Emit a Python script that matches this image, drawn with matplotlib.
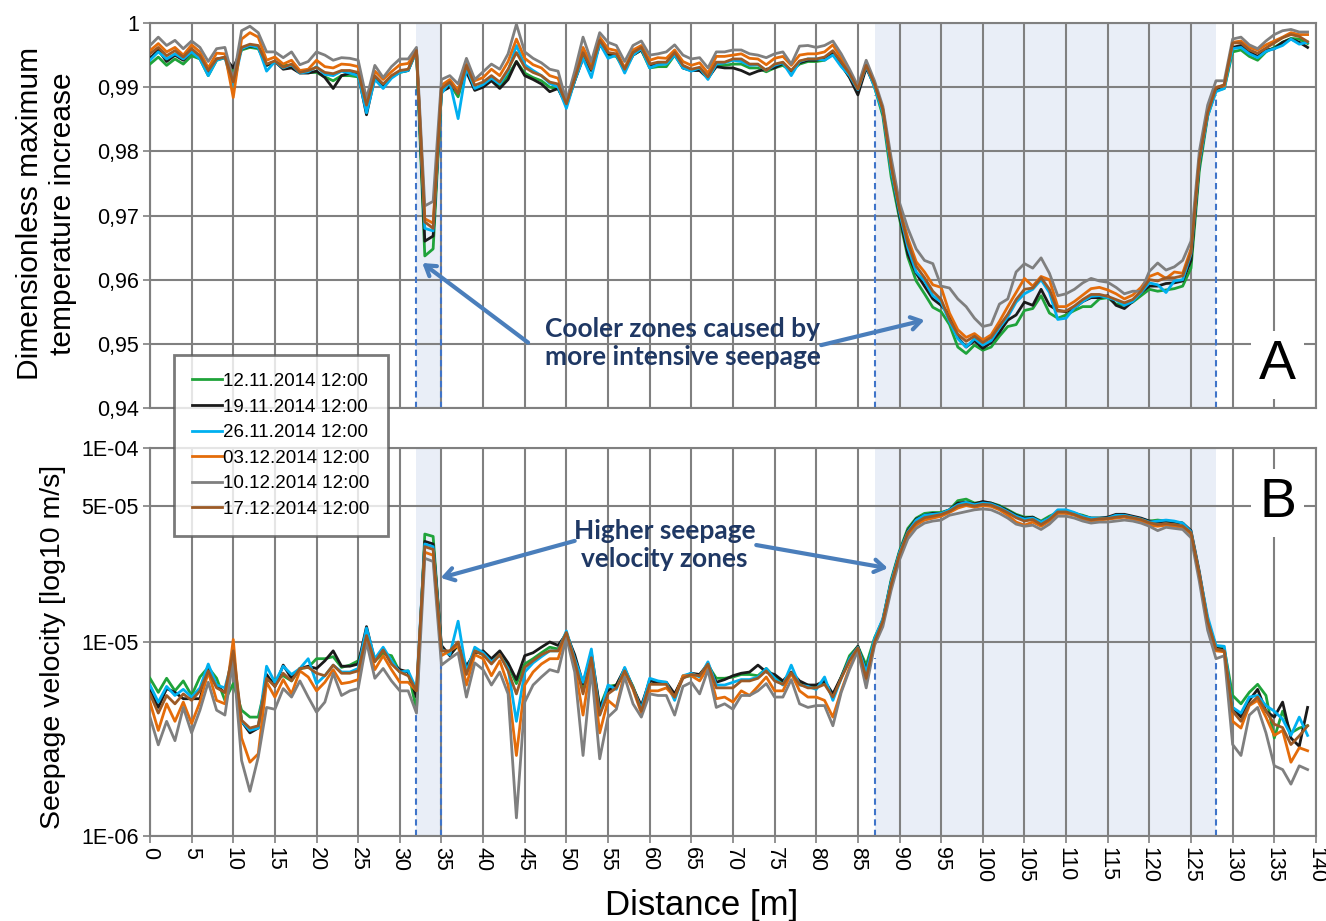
"""Temperature response and seepage velocity along the fibre (two panels).

Run:
    python plot.py
"""

import matplotlib.pyplot as plt
from matplotlib.ticker import FixedLocator, FuncFormatter, NullLocator


OUT_PATH = "out.png"

DISTANCE = list(range(140))

DATES = [
    "12.11.2014 12:00",
    "19.11.2014 12:00",
    "26.11.2014 12:00",
    "03.12.2014 12:00",
    "10.12.2014 12:00",
    "17.12.2014 12:00",
]
COLORS = ["#1fa33a", "#1a1a1a", "#00b0f0", "#e46c0a", "#7f7f7f", "#9c5a26"]

# Panel A: dimensionless maximum temperature increase, in units of 1e-4
temp_1211 = [
    9936, 9947, 9934, 9944, 9936, 9949, 9944, 9918, 9942, 9946,
    9925, 9958, 9962, 9960, 9934, 9939, 9934, 9934, 9923, 9923,
    9923, 9916, 9910, 9918, 9918, 9916, 9874, 9916, 9903, 9916,
    9923, 9926, 9957, 9637, 9648, 9893, 9905, 9885, 9930, 9898,
    9903, 9912, 9902, 9918, 9940, 9922, 9915, 9910, 9900, 9898,
    9872, 9910, 9950, 9926, 9968, 9950, 9948, 9926, 9950, 9958,
    9930, 9932, 9932, 9950, 9930, 9926, 9928, 9914, 9934, 9934,
    9936, 9936, 9930, 9930, 9924, 9930, 9934, 9925, 9936, 9940,
    9940, 9942, 9952, 9934, 9916, 9892, 9934, 9900, 9855, 9760,
    9695, 9635, 9598, 9578, 9557, 9550, 9530, 9495, 9485, 9498,
    9490, 9495, 9512, 9527, 9530, 9552, 9555, 9575, 9548, 9540,
    9545, 9552, 9558, 9558, 9570, 9572, 9562, 9560, 9565, 9575,
    9585, 9582, 9584, 9586, 9590, 9618, 9770, 9855, 9895, 9898,
    9955, 9958, 9948, 9942, 9955, 9962, 9970, 9976, 9975, 9968,
]
temp_1911 = [
    9945, 9958, 9940, 9950, 9942, 9955, 9946, 9922, 9944, 9946,
    9930, 9960, 9964, 9962, 9934, 9940, 9928, 9930, 9922, 9922,
    9925, 9915, 9898, 9918, 9922, 9920, 9857, 9916, 9900, 9916,
    9924, 9926, 9958, 9660, 9668, 9893, 9900, 9895, 9924, 9895,
    9900, 9910, 9898, 9912, 9940, 9918, 9912, 9905, 9893, 9898,
    9872, 9910, 9945, 9926, 9966, 9952, 9950, 9928, 9950, 9958,
    9934, 9936, 9938, 9952, 9930, 9926, 9926, 9914, 9932, 9930,
    9930, 9926, 9920, 9925, 9928, 9930, 9937, 9925, 9938, 9942,
    9942, 9945, 9954, 9935, 9915, 9888, 9930, 9903, 9862, 9772,
    9700, 9640, 9610, 9590, 9570, 9560, 9545, 9510, 9495, 9505,
    9493, 9502, 9518, 9537, 9545, 9565, 9560, 9585, 9560, 9552,
    9550, 9556, 9566, 9572, 9572, 9575, 9560, 9555, 9566, 9580,
    9590, 9590, 9594, 9595, 9598, 9630, 9780, 9858, 9897, 9903,
    9962, 9965, 9955, 9948, 9958, 9960, 9970, 9975, 9970, 9962,
]
temp_2611 = [
    9942, 9955, 9944, 9952, 9944, 9955, 9944, 9918, 9942, 9946,
    9900, 9960, 9965, 9962, 9925, 9940, 9930, 9935, 9922, 9924,
    9932, 9920, 9918, 9925, 9922, 9918, 9860, 9912, 9898, 9914,
    9923, 9926, 9955, 9680, 9676, 9890, 9908, 9851, 9930, 9898,
    9904, 9914, 9905, 9925, 9965, 9935, 9926, 9918, 9906, 9900,
    9867, 9910, 9945, 9915, 9968, 9945, 9950, 9922, 9950, 9960,
    9930, 9935, 9936, 9950, 9930, 9925, 9930, 9912, 9936, 9938,
    9942, 9940, 9934, 9935, 9926, 9934, 9938, 9918, 9940, 9944,
    9944, 9942, 9950, 9932, 9918, 9896, 9933, 9900, 9860, 9770,
    9705, 9650, 9612, 9598, 9575, 9565, 9535, 9508, 9495, 9508,
    9498, 9505, 9525, 9542, 9565, 9578, 9585, 9600, 9580, 9538,
    9540, 9556, 9566, 9574, 9575, 9572, 9568, 9560, 9566, 9580,
    9595, 9592, 9580, 9598, 9600, 9640, 9782, 9855, 9893, 9898,
    9960, 9962, 9952, 9946, 9956, 9960, 9965, 9975, 9967, 9970,
]
temp_0312 = [
    9957, 9968, 9955, 9962, 9950, 9966, 9955, 9930, 9953, 9952,
    9884, 9975, 9985, 9978, 9942, 9947, 9936, 9942, 9926, 9928,
    9942, 9932, 9930, 9936, 9935, 9932, 9878, 9925, 9912, 9924,
    9935, 9937, 9957, 9695, 9688, 9903, 9912, 9895, 9940, 9910,
    9915, 9928, 9918, 9940, 9975, 9945, 9935, 9930, 9918, 9914,
    9876, 9918, 9962, 9935, 9978, 9960, 9957, 9930, 9958, 9965,
    9942, 9946, 9945, 9958, 9940, 9934, 9938, 9922, 9948, 9948,
    9950, 9952, 9945, 9944, 9935, 9945, 9948, 9934, 9950, 9952,
    9952, 9955, 9966, 9945, 9925, 9898, 9938, 9906, 9866, 9780,
    9712, 9665, 9628, 9612, 9592, 9588, 9548, 9522, 9510, 9516,
    9506, 9514, 9535, 9558, 9580, 9602, 9590, 9605, 9600, 9558,
    9558, 9566, 9576, 9586, 9588, 9584, 9578, 9570, 9576, 9588,
    9605, 9610, 9602, 9612, 9610, 9648, 9790, 9862, 9900, 9902,
    9970, 9972, 9962, 9958, 9966, 9972, 9978, 9985, 9982, 9982,
]
temp_1012 = [
    9965, 9978, 9965, 9973, 9960, 9972, 9962, 9940, 9960, 9962,
    9912, 9988, 9995, 9985, 9955, 9955, 9946, 9955, 9935, 9940,
    9955, 9950, 9942, 9946, 9945, 9942, 9882, 9934, 9915, 9932,
    9944, 9944, 9962, 9715, 9722, 9912, 9918, 9905, 9945, 9912,
    9924, 9936, 9928, 9952, 9998, 9955, 9945, 9938, 9928, 9925,
    9878, 9925, 9978, 9940, 9985, 9970, 9965, 9940, 9965, 9972,
    9950, 9952, 9955, 9966, 9950, 9944, 9946, 9930, 9955, 9955,
    9958, 9958, 9952, 9950, 9946, 9952, 9955, 9936, 9964, 9965,
    9962, 9965, 9972, 9952, 9928, 9902, 9942, 9910, 9870, 9790,
    9720, 9680, 9648, 9630, 9625, 9590, 9587, 9570, 9558, 9540,
    9527, 9530, 9562, 9570, 9612, 9625, 9618, 9634, 9610, 9575,
    9578, 9585, 9595, 9602, 9598, 9596, 9588, 9578, 9582, 9582,
    9613, 9626, 9615, 9620, 9630, 9660, 9800, 9872, 9910, 9910,
    9975, 9978, 9966, 9960, 9972, 9982, 9988, 9990, 9986, 9986,
]
temp_1712 = [
    9952, 9962, 9949, 9957, 9947, 9960, 9949, 9926, 9944, 9947,
    9908, 9962, 9967, 9965, 9936, 9941, 9931, 9936, 9923, 9926,
    9931, 9923, 9921, 9926, 9926, 9923, 9872, 9918, 9905, 9918,
    9926, 9928, 9957, 9690, 9680, 9898, 9908, 9890, 9934, 9903,
    9908, 9918, 9908, 9928, 9954, 9931, 9923, 9918, 9908, 9905,
    9874, 9913, 9954, 9928, 9973, 9954, 9952, 9928, 9954, 9962,
    9936, 9939, 9939, 9954, 9934, 9928, 9931, 9916, 9939, 9939,
    9944, 9944, 9936, 9936, 9926, 9936, 9939, 9926, 9941, 9944,
    9944, 9947, 9957, 9939, 9921, 9897, 9934, 9905, 9865, 9777,
    9709, 9657, 9621, 9603, 9582, 9569, 9538, 9515, 9504, 9512,
    9502, 9510, 9528, 9546, 9569, 9585, 9587, 9603, 9585, 9551,
    9551, 9559, 9569, 9577, 9577, 9574, 9569, 9564, 9569, 9582,
    9600, 9598, 9603, 9603, 9606, 9642, 9787, 9860, 9899, 9904,
    9969, 9969, 9958, 9953, 9961, 9969, 9977, 9982, 9979, 9971,
]

# Panel B: seepage velocity, in units of 1e-6 m/s
vel_1211 = [
    6.5, 5.5, 6.5, 5.6, 6.3, 5.3, 6.6, 7.4, 6.5, 5.0,
    6.1, 4.45, 4.1, 4.1, 6.3, 6.4, 6.7, 6.3, 7.3, 7.4,
    8.2, 8.2, 8.4, 7.4, 7.6, 8.0, 10.6, 8.0, 8.7, 8.5,
    7.0, 7.1, 4.45, 36.0, 35.0, 9.2, 8.6, 9.6, 7.3, 9.0,
    8.6, 7.9, 8.6, 7.6, 6.1, 7.7, 8.2, 8.8, 9.4, 9.2,
    11.2, 8.3, 5.6, 8.3, 4.6, 5.9, 6.0, 7.2, 5.9, 4.5,
    6.4, 6.1, 6.1, 5.3, 6.6, 6.7, 6.8, 7.6, 6.5, 6.5,
    6.6, 6.8, 6.8, 6.7, 7.3, 6.6, 6.1, 6.9, 6.1, 6.0,
    5.9, 6.2, 5.2, 6.6, 8.5, 9.5, 7.6, 10.5, 13.0, 21.0,
    29.5, 38.5, 43.5, 46.0, 46.5, 46.5, 48.0, 53.5, 54.5, 52.0,
    52.5, 52.0, 50.5, 48.0, 45.5, 44.0, 44.0, 42.0, 44.5, 46.5,
    46.5, 46.0, 45.0, 43.5, 43.5, 43.5, 44.5, 45.0, 44.0, 43.0,
    42.0, 42.5, 42.0, 41.5, 41.0, 36.0, 22.0, 12.8, 9.5, 9.2,
    5.3, 4.8, 5.5, 6.05, 5.3, 3.2, 4.4, 3.4, 3.6, 3.7,
]
vel_1911 = [
    5.6, 4.6, 5.75, 5.5, 5.1, 5.1, 5.1, 7.2, 5.9, 5.5,
    8.0, 3.9, 3.4, 3.6, 6.8, 5.9, 7.6, 6.5, 7.3, 7.5,
    7.3, 8.0, 9.0, 7.5, 7.5, 7.7, 12.0, 8.0, 9.2, 7.8,
    7.2, 7.0, 5.2, 33.0, 32.0, 9.6, 8.5, 9.7, 7.5, 8.8,
    9.0, 8.2, 9.0, 7.8, 6.4, 8.5, 8.8, 9.4, 10.0, 9.6,
    11.0, 8.6, 6.1, 8.8, 4.6, 5.6, 6.0, 7.3, 5.8, 4.7,
    6.3, 6.2, 6.2, 5.4, 6.6, 6.9, 6.8, 7.7, 6.2, 6.4,
    6.7, 6.9, 7.0, 7.6, 7.0, 6.8, 6.3, 7.0, 6.3, 6.0,
    6.0, 6.3, 5.4, 6.6, 8.2, 9.5, 7.1, 10.2, 13.0, 20.5,
    29.0, 37.5, 43.0, 45.0, 46.0, 46.0, 48.0, 52.0, 52.5, 51.5,
    53.0, 52.0, 50.0, 47.5, 45.0, 43.5, 44.0, 41.5, 43.5, 47.0,
    47.0, 46.0, 44.5, 43.5, 43.5, 44.0, 45.5, 45.5, 44.5, 43.5,
    42.0, 41.5, 42.0, 41.5, 41.0, 37.5, 23.0, 13.0, 9.3, 9.1,
    4.6, 4.1, 5.0, 5.7, 4.4, 4.1, 4.9, 3.2, 2.9, 4.6,
]
vel_2611 = [
    6.0, 4.9, 5.9, 5.3, 5.7, 5.2, 5.8, 7.7, 6.0, 5.8,
    8.5, 3.9, 3.5, 3.6, 7.5, 6.2, 7.5, 6.8, 7.3, 8.2,
    6.1, 6.7, 7.6, 7.0, 7.0, 7.3, 11.8, 8.2, 9.4, 8.0,
    7.0, 7.1, 5.7, 32.0, 31.0, 9.2, 8.6, 12.8, 7.0, 9.4,
    8.8, 7.9, 8.5, 7.3, 3.9, 7.0, 7.8, 8.4, 9.0, 9.0,
    11.4, 8.2, 6.2, 9.2, 4.2, 6.0, 5.7, 7.4, 5.8, 4.5,
    6.5, 6.3, 6.2, 5.0, 6.7, 6.9, 6.6, 7.9, 6.0, 6.0,
    6.2, 6.4, 6.4, 6.6, 7.3, 6.5, 6.0, 7.6, 6.0, 5.9,
    5.7, 6.6, 5.0, 6.5, 8.2, 9.4, 7.0, 10.4, 13.2, 20.5,
    29.0, 37.0, 42.5, 45.0, 45.5, 46.0, 48.0, 51.0, 52.5, 51.0,
    52.0, 51.5, 49.5, 47.0, 44.5, 43.0, 43.5, 41.5, 43.5, 48.0,
    48.0, 46.5, 44.5, 43.5, 43.5, 43.5, 45.0, 45.0, 44.0, 43.0,
    41.5, 42.0, 42.5, 42.0, 41.0, 37.0, 22.5, 13.5, 9.6, 9.5,
    4.6, 4.3, 5.2, 5.3, 4.7, 4.4, 4.0, 3.3, 4.1, 3.3,
]
vel_0312 = [
    4.9, 3.5, 4.8, 3.9, 4.9, 3.8, 4.9, 7.0, 5.0, 4.8,
    10.3, 3.2, 2.4, 2.65, 6.2, 5.2, 6.4, 5.4, 7.1, 6.6,
    5.6, 6.2, 7.2, 6.1, 6.2, 6.4, 10.5, 7.2, 8.5, 7.2,
    6.2, 6.2, 5.6, 29.0, 28.0, 8.5, 9.0, 9.6, 6.0, 8.6,
    8.2, 6.7, 8.0, 6.0, 2.6, 6.0, 7.0, 7.7, 8.2, 8.2,
    11.0, 7.5, 4.2, 8.0, 3.4, 5.0, 4.6, 7.0, 5.7, 4.3,
    5.6, 5.6, 5.8, 5.2, 6.7, 6.7, 6.3, 7.4, 5.1, 5.2,
    4.9, 5.6, 5.3, 5.9, 6.6, 5.6, 5.6, 6.9, 5.6, 5.2,
    5.2, 5.0, 4.1, 5.6, 7.4, 9.2, 6.3, 9.8, 12.6, 19.5,
    28.0, 35.5, 40.0, 42.5, 43.5, 44.5, 46.5, 49.0, 50.5, 49.5,
    50.5, 50.0, 48.0, 45.0, 41.5, 40.0, 41.5, 39.5, 42.0, 46.0,
    46.0, 45.0, 43.0, 42.0, 42.5, 43.0, 43.5, 44.0, 43.0, 42.0,
    40.0, 39.5, 40.0, 39.5, 39.0, 36.0, 22.0, 12.5, 9.0, 8.9,
    3.9, 3.6, 4.7, 5.0, 4.1, 3.3, 3.5, 2.4, 2.85, 2.75,
]
vel_1012 = [
    4.1, 2.95, 3.9, 3.1, 4.6, 3.4, 4.45, 6.2, 4.45, 4.2,
    8.2, 2.45, 1.7, 2.55, 4.6, 4.5, 5.75, 5.2, 6.3, 5.2,
    4.35, 4.9, 6.9, 5.3, 5.6, 5.75, 10.0, 6.5, 7.3, 6.3,
    5.6, 5.6, 4.3, 27.0, 26.0, 7.6, 8.2, 8.8, 5.2, 7.8,
    7.2, 6.0, 7.0, 5.4, 1.24, 4.9, 6.0, 6.6, 7.2, 7.0,
    10.6, 7.0, 2.6, 7.3, 2.5, 4.1, 4.5, 6.6, 4.8, 4.1,
    5.4, 5.3, 5.3, 4.2, 5.9, 6.2, 5.4, 7.2, 4.6, 4.8,
    4.5, 5.3, 5.3, 5.6, 6.1, 5.2, 5.2, 6.4, 4.8, 4.6,
    4.7, 4.7, 3.7, 5.5, 7.2, 9.0, 5.8, 9.6, 12.0, 18.5,
    26.5, 34.0, 38.5, 41.0, 42.0, 42.5, 45.0, 46.0, 47.0, 48.0,
    48.5, 48.0, 46.0, 43.5, 40.5, 39.5, 40.0, 38.0, 40.5, 44.5,
    44.5, 43.5, 42.0, 41.0, 41.5, 41.5, 42.0, 42.5, 42.0, 41.0,
    39.5, 37.5, 39.0, 38.5, 38.0, 34.5, 20.5, 11.5, 8.2, 8.5,
    2.96, 2.6, 4.2, 4.6, 3.4, 2.3, 2.2, 1.85, 2.3, 2.2,
]
vel_1712 = [
    5.4, 4.3, 5.3, 4.8, 5.4, 5.0, 5.6, 7.1, 5.8, 5.5,
    9.0, 3.95, 3.6, 3.7, 6.5, 5.9, 6.9, 6.3, 7.3, 7.4,
    6.9, 6.7, 7.6, 6.9, 6.9, 7.1, 10.8, 7.9, 9.1, 7.7,
    7.0, 6.7, 5.6, 31.0, 30.0, 9.0, 9.0, 10.0, 6.8, 9.0,
    8.6, 7.7, 8.6, 7.1, 5.4, 7.4, 8.0, 8.6, 9.0, 9.0,
    11.2, 8.0, 5.4, 8.3, 4.2, 5.4, 5.8, 7.1, 5.8, 4.4,
    6.05, 6.05, 6.05, 5.2, 6.5, 6.8, 6.7, 7.7, 5.8, 5.8,
    5.8, 6.3, 6.3, 6.5, 7.1, 6.3, 6.05, 6.95, 6.05, 5.8,
    5.8, 6.05, 5.2, 6.5, 8.0, 9.35, 6.5, 10.0, 12.8, 19.8,
    28.3, 36.6, 41.2, 43.7, 44.5, 45.4, 47.2, 50.2, 51.2, 50.2,
    51.2, 50.8, 48.8, 46.4, 43.7, 42.0, 42.8, 40.3, 42.8, 46.8,
    46.8, 45.4, 43.7, 42.6, 43.2, 43.3, 44.0, 44.5, 43.7, 42.8,
    41.2, 40.3, 40.7, 40.3, 39.6, 36.6, 22.3, 12.8, 9.2, 9.0,
    4.4, 3.9, 4.77, 5.2, 4.4, 3.77, 3.62, 2.96, 3.28, 3.7,
]

TEMP_SERIES = [temp_1211, temp_1911, temp_2611, temp_0312, temp_1012, temp_1712]
VEL_SERIES = [vel_1211, vel_1911, vel_2611, vel_0312, vel_1012, vel_1712]

# Seepage zones (m) and where the dashed markers start in each panel
ZONES = [(32, 35), (87, 128)]
ZONE_EDGES = [32, 35, 87, 128]
TEMP_EDGE_TOP = [0.9900, 0.9895, 0.9888, 0.9888]
VEL_EDGE_TOP = [4.85e-6, 1.03e-5, 8.3e-6, 8.0e-6]

VEL_TICKS = [1e-6, 1e-5, 5e-5, 1e-4]
VEL_TICK_LABELS = ["1E-06", "1E-05", "5E-05", "1E-04"]

GRID_COLOR = "#808080"
BAND_COLOR = "#e9eef7"
DASH_COLOR = "#3f74c9"
ARROW_COLOR = "#4a7ebb"
NOTE_COLOR = "#1f3864"
NOTE_FONT = ["Lato", "DejaVu Sans"]

plt.rcParams["font.family"] = ["Liberation Sans", "DejaVu Sans"]


def style_axes(ax) -> None:
    """Grid, spines and ticks in the spreadsheet look."""
    ax.set_xlim(0, 140)
    ax.set_xticks(range(0, 141, 5))
    ax.set_axisbelow(True)
    ax.grid(True, which="major", color=GRID_COLOR, linewidth=1.5)
    for spine in ax.spines.values():
        spine.set_color(GRID_COLOR)
        spine.set_linewidth(1.5)
    ax.tick_params(axis="both", which="major", length=5, width=1.2,
                   color=GRID_COLOR, labelsize=15.5, pad=3)


def draw_zones(ax, edge_tops, bottom) -> None:
    """Shaded seepage zones with dashed boundary lines."""
    for start, end in ZONES:
        ax.axvspan(start, end, color=BAND_COLOR, zorder=0, linewidth=0)
    for edge, top in zip(ZONE_EDGES, edge_tops):
        ax.plot([edge, edge], [bottom, top], color=DASH_COLOR, linewidth=1.5,
                linestyle=(0, (3, 2)), zorder=2)


def arrow(ax, tail, tip) -> None:
    ax.annotate("", xy=tip, xytext=tail,
                arrowprops=dict(arrowstyle="->,head_length=0.7,head_width=0.45",
                                color=ARROW_COLOR, linewidth=3,
                                shrinkA=0, shrinkB=0),
                zorder=6)


def plot_temperature(ax) -> None:
    draw_zones(ax, TEMP_EDGE_TOP, 0.94)
    for values, color, label in zip(TEMP_SERIES, COLORS, DATES):
        ax.plot(DISTANCE, [v / 1e4 for v in values], color=color,
                linewidth=2.0, label=label, zorder=3)

    style_axes(ax)
    ax.set_ylim(0.94, 1.0)
    ax.set_yticks([0.94, 0.95, 0.96, 0.97, 0.98, 0.99, 1.0])
    ax.yaxis.set_major_formatter(FuncFormatter(
        lambda v, _: "1" if abs(v - 1) < 1e-9 else f"{v:.2f}".replace(".", ",")))
    ax.tick_params(axis="x", labelbottom=False, length=0)

    ax.text(64.0, 0.9502, "Cooler zones caused by\nmore intensive seepage",
            ha="center", va="center", fontsize=19, fontweight="bold",
            color=NOTE_COLOR, family=NOTE_FONT, linespacing=1.2, zorder=7)
    arrow(ax, (45.4, 0.9502), (32.7, 0.9626))
    arrow(ax, (80.6, 0.9498), (93.0, 0.9537))

    ax.text(135.4, 0.9467, "A", ha="center", va="center", fontsize=40,
            bbox=dict(facecolor="white", edgecolor="none", pad=6), zorder=5)


def plot_velocity(ax) -> None:
    draw_zones(ax, VEL_EDGE_TOP, 1e-6)
    for values, color in zip(VEL_SERIES, COLORS):
        ax.plot(DISTANCE, [v * 1e-6 for v in values], color=color,
                linewidth=2.0, zorder=3)

    ax.set_yscale("log")
    style_axes(ax)
    ax.set_ylim(1e-6, 1e-4)
    ax.yaxis.set_major_locator(FixedLocator(VEL_TICKS))
    ax.yaxis.set_major_formatter(FuncFormatter(
        lambda v, pos: VEL_TICK_LABELS[pos] if pos is not None else ""))
    ax.yaxis.set_minor_locator(NullLocator())
    ax.tick_params(axis="x", labelrotation=-90)

    ax.text(61.8, 3.16e-5, "Higher seepage\nvelocity zones",
            ha="center", va="center", fontsize=19, fontweight="bold",
            color=NOTE_COLOR, family=NOTE_FONT, linespacing=1.2, zorder=7)
    arrow(ax, (51.0, 3.32e-5), (34.9, 2.14e-5))
    arrow(ax, (72.8, 3.16e-5), (88.6, 2.4e-5))

    ax.text(135.4, 5.2e-5, "B", ha="center", va="center", fontsize=40,
            bbox=dict(facecolor="white", edgecolor="none", pad=6), zorder=5)


def main() -> None:
    fig = plt.figure(figsize=(13.26, 9.21), dpi=100)
    ax_temp = fig.add_axes([0.1131, 0.557, 0.8793, 0.418])
    ax_vel = fig.add_axes([0.1131, 0.0923, 0.8793, 0.4213])

    plot_temperature(ax_temp)
    plot_velocity(ax_vel)

    fig.text(0.035, 0.768, "Dimensionless maximum\ntemperature increase",
             rotation=90, ha="center", va="center", fontsize=21.5,
             linespacing=1.2)
    fig.text(0.040, 0.298, "Seepage velocity [log10 m/s]",
             rotation=90, ha="center", va="center", fontsize=20.5)
    fig.text(0.529, 0.017, "Distance [m]", ha="center", va="center",
             fontsize=25)

    legend = fig.legend(*ax_temp.get_legend_handles_labels(),
                        loc="upper left", bbox_to_anchor=(0.131, 0.6145),
                        fontsize=13.5, frameon=True, fancybox=False,
                        handlelength=1.6, handletextpad=0.1,
                        labelspacing=0.45, borderpad=0.95,
                        borderaxespad=0)
    legend.get_frame().set_edgecolor("#595959")
    legend.get_frame().set_linewidth(2)

    fig.savefig(OUT_PATH, dpi=100)
    plt.close(fig)


if __name__ == "__main__":
    main()
